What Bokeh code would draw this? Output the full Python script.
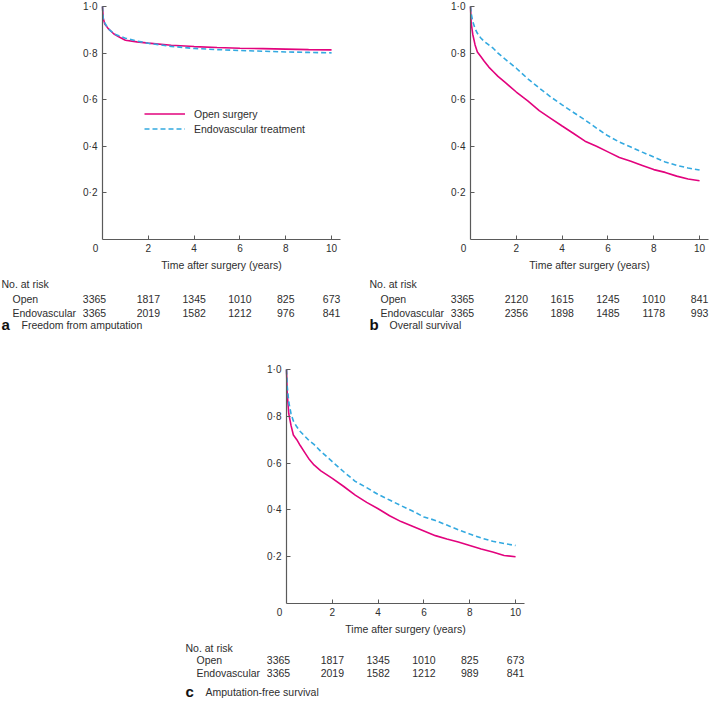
from bokeh.plotting import figure
from bokeh.models import (Range1d, Legend, LegendItem, FixedTicker,
                          Spacer, CustomJSTickFormatter)
from bokeh.layouts import column, row
from bokeh.core.properties import value
from bokeh.embed import file_html
from bokeh.resources import INLINE

# ---------------- data ----------------
# Panel a: freedom from amputation
t_a = [0, 0.03, 0.1, 0.25, 0.5, 0.75, 1.0, 1.5, 2, 3, 4, 5, 6, 7, 8, 9, 10]
open_a = [1.0, 0.95, 0.925, 0.905, 0.882, 0.868, 0.855, 0.848, 0.843, 0.834, 0.828,
          0.824, 0.821, 0.819, 0.817, 0.815, 0.814]
endo_a = [1.0, 0.95, 0.93, 0.905, 0.883, 0.873, 0.864, 0.852, 0.842, 0.829, 0.820,
          0.815, 0.811, 0.808, 0.805, 0.803, 0.801]

# Panel b: overall survival
t_b = [0, 0.03, 0.1, 0.2, 0.3, 0.45, 0.6, 0.8, 1.0, 1.2, 1.5, 2, 2.5, 3, 3.5, 4, 4.5,
       5, 5.5, 6, 6.5, 7, 7.5, 8, 8.5, 9, 9.5, 10]
open_b = [1.0, 0.93, 0.88, 0.835, 0.805, 0.785, 0.765, 0.74, 0.72, 0.70, 0.675, 0.633,
          0.595, 0.553, 0.52, 0.487, 0.455, 0.422, 0.40, 0.376, 0.352, 0.336, 0.318,
          0.30, 0.288, 0.272, 0.26, 0.252]
endo_b = [1.0, 0.97, 0.935, 0.905, 0.885, 0.865, 0.85, 0.835, 0.82, 0.80, 0.775, 0.735,
          0.69, 0.65, 0.612, 0.578, 0.545, 0.513, 0.478, 0.445, 0.418, 0.397, 0.375,
          0.354, 0.333, 0.318, 0.307, 0.298]

# Panel c: amputation-free survival
t_c = t_b
open_c = [1.0, 0.90, 0.81, 0.76, 0.72, 0.70, 0.675, 0.645, 0.615, 0.592, 0.567, 0.535,
          0.50, 0.463, 0.432, 0.405, 0.375, 0.35, 0.33, 0.31, 0.29, 0.276, 0.263,
          0.248, 0.233, 0.22, 0.205, 0.20]
endo_c = [1.0, 0.93, 0.86, 0.81, 0.78, 0.755, 0.735, 0.715, 0.695, 0.68, 0.65, 0.606,
          0.563, 0.522, 0.495, 0.466, 0.442, 0.418, 0.395, 0.37, 0.355, 0.335, 0.315,
          0.297, 0.28, 0.266, 0.256, 0.248]

# Numbers at risk
risk_times = [0, 2, 4, 6, 8, 10]
risk_a_open = [3365, 1817, 1345, 1010, 825, 673]
risk_a_endo = [3365, 2019, 1582, 1212, 976, 841]
risk_b_open = [3365, 2120, 1615, 1245, 1010, 841]
risk_b_endo = [3365, 2356, 1898, 1485, 1178, 993]
risk_c_open = [3365, 1817, 1345, 1010, 825, 673]
risk_c_endo = [3365, 2019, 1582, 1212, 989, 841]

x_ticks = [2, 4, 6, 8, 10]
y_ticks = [0.2, 0.4, 0.6, 0.8, 1.0]
series_labels = ["Open surgery", "Endovascular treatment"]
row_labels = ["Open", "Endovascular"]

# ---------------- style ----------------
FONT = "Liberation Sans"
OPEN_C = "#E2037D"
ENDO_C = "#33A9E0"
AXIS_C = "#5a5a5a"
TEXT_C = "#2e2e2e"

L = 102        # px from panel left to y axis
TOP = 6        # px above y = 1.0
FRAME_W = 238  # px for the x axis line
XMAX = 10.39


def make_panel(letter, caption, t, s_open, s_endo, r_open, r_endo, width, H, rows,
               legend=False):
    below = rows[3] + 10                 # px below the x axis
    height = TOP + H + below
    kx = XMAX / FRAME_W                  # data units per px (x)
    ky = 1.0 / H                         # data units per px (y)
    p = figure(width=width, height=height,
               x_range=Range1d(-L * kx, (width - L) * kx),
               y_range=Range1d(-below * ky, 1.0 + TOP * ky),
               output_backend="svg", toolbar_location=None, min_border=0,
               min_border_left=0, min_border_right=0, min_border_top=0,
               min_border_bottom=0)
    p.grid.visible = False
    p.outline_line_color = None

    r1 = p.line(t, s_open, line_color=OPEN_C, line_width=1.6)
    r2 = p.line(t, s_endo, line_color=ENDO_C, line_width=1.6, line_dash="5 3")

    for ax in (p.xaxis[0], p.yaxis[0]):
        ax.fixed_location = 0
        ax.axis_line_color = AXIS_C
        ax.axis_line_width = 1.2
        ax.major_tick_line_color = AXIS_C
        ax.major_tick_in = 4
        ax.major_tick_out = 0
        ax.minor_tick_line_color = None
        ax.major_label_text_font = FONT
        ax.major_label_text_font_size = "10px"
        ax.major_label_text_color = TEXT_C

    p.xaxis.bounds = (0, XMAX)
    p.xaxis.ticker = FixedTicker(ticks=x_ticks)
    p.xaxis.major_label_standoff = 4
    p.xaxis.axis_label = "Time after surgery (years)"
    p.xaxis.axis_label_text_font = FONT
    p.xaxis.axis_label_text_font_size = "10.5px"
    p.xaxis.axis_label_text_font_style = "normal"
    p.xaxis.axis_label_text_color = TEXT_C
    p.xaxis.axis_label_standoff = 4

    p.yaxis.bounds = (0, 1.0)
    p.yaxis.ticker = FixedTicker(ticks=y_ticks)
    p.yaxis.formatter = CustomJSTickFormatter(
        code="return tick.toFixed(1).replace('.', '\u00b7');")
    p.yaxis.major_label_standoff = 5

    def txt(xs, ys_px, texts, align="left", size="10.5px", style="normal",
            color=TEXT_C, baseline="middle"):
        p.text(x=xs, y=[-yy * ky for yy in ys_px], text=texts,
               text_align=align, text_baseline=baseline,
               text_font=value(FONT), text_font_size=size,
               text_font_style=style, text_color=color)

    # corner "0"
    txt([-7 * kx], [4], ["0"], align="center", size="10px", baseline="top")

    if legend:
        leg = Legend(items=[LegendItem(label=series_labels[0], renderers=[r1]),
                            LegendItem(label=series_labels[1], renderers=[r2])],
                     location=(L + 42, below + 103), orientation="vertical",
                     background_fill_alpha=0, border_line_alpha=0,
                     glyph_width=41, glyph_height=15, label_height=15,
                     label_standoff=9, spacing=0, padding=0, margin=0,
                     label_text_font=FONT, label_text_font_size="10.5px",
                     label_text_color=TEXT_C)
        p.add_layout(leg)

    # number-at-risk table below the axis
    y_head, y_open, y_endo, y_cap = rows
    txt([-101 * kx], [y_head], ["No. at risk"])
    txt([-90 * kx, -90 * kx], [y_open, y_endo], row_labels)
    for vals, yy in ((r_open, y_open), (r_endo, y_endo)):
        xs = [tt - (8 * kx if tt == 0 else 0) for tt in risk_times]
        txt(xs, [yy] * len(vals), [str(v) for v in vals], align="center")
    txt([-101 * kx], [y_cap - 0.5], [letter], size="15px", style="bold", color="#111111")
    txt([-81 * kx], [y_cap], [caption])
    return p


pa = make_panel("a", "Freedom from amputation", t_a, open_a, endo_a,
                risk_a_open, risk_a_endo, 368, 233, (44, 59, 73, 85), legend=True)
pb = make_panel("b", "Overall survival", t_b, open_b, endo_b,
                risk_b_open, risk_b_endo, 341, 233, (44, 59, 73, 85))
pc = make_panel("c", "Amputation-free survival", t_c, open_c, endo_c,
                risk_c_open, risk_c_endo, 341, 234, (44, 56, 69, 88))

layout = column(row(pa, pb, spacing=0),
                Spacer(height=29),
                row(Spacer(width=184), pc, spacing=0),
                spacing=0)

open("out.html", "w").write(file_html(layout, INLINE))
